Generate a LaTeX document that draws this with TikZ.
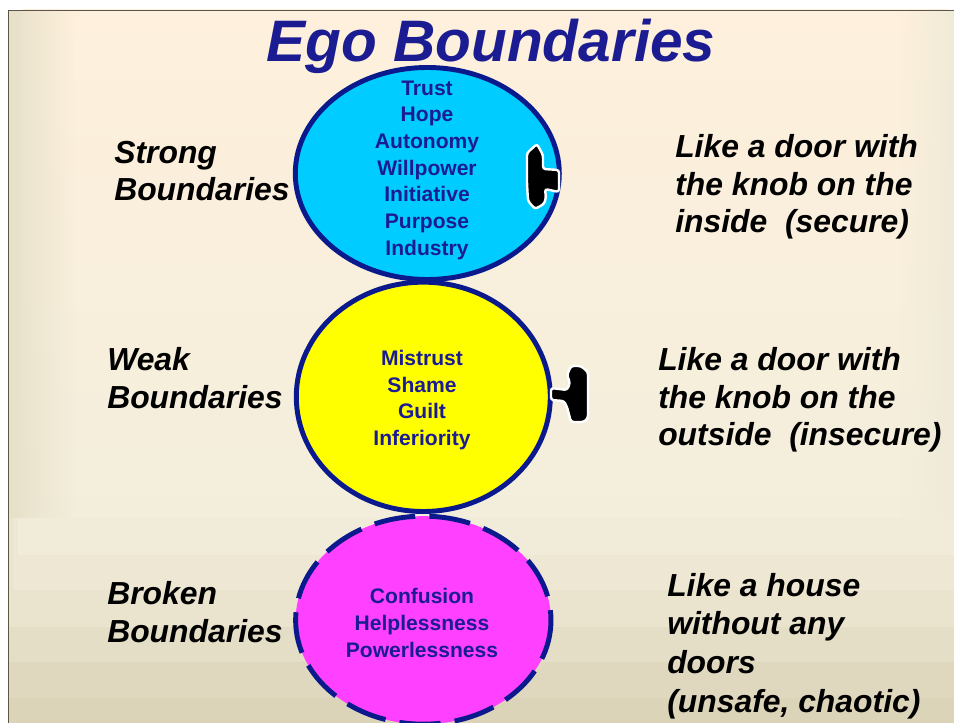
\documentclass[tikz,border=0pt]{standalone}
\usepackage{fontspec}
\setmainfont{Liberation Sans}
\usetikzlibrary{shapes.geometric,fadings}
\definecolor{inkBlue}{HTML}{1C1C92}
\definecolor{rimBlue}{HTML}{0A1A8C}
\definecolor{skyFill}{HTML}{00CCFF}
\definecolor{yellowFill}{HTML}{FFFF00}
\definecolor{pinkFill}{HTML}{FF40FF}
\definecolor{frameGrey}{HTML}{5A5546}
\definecolor{warmTop}{HTML}{FEF0DC}
\definecolor{warmLow}{HTML}{F3EEDC}
\definecolor{edgeTone}{HTML}{E7E1CA}
\definecolor{edgeRight}{HTML}{EFEBD8}
\tikzset{%
  % Specifications for style of nodes:
       circlebase/.style = {ellipse, draw=rimBlue, line width=3.7pt, inner sep=0pt},
       circletext/.style = {align=center, text=inkBlue,
                            font=\fontsize{15.8}{20}\selectfont\bfseries},
        sidelabel/.style = {anchor=west, align=left, text=black, inner sep=0pt,
                            font=\fontsize{23.9}{28.3}\selectfont\bfseries\itshape},
       knobshape/.style = {fill=black, draw=white, line width=1.8pt, rounded corners=2pt},
}
\begin{document}
\begin{tikzpicture}[x=0.75pt, y=-0.75pt, node distance=167.5pt]
  \useasboundingbox (0,0) rectangle (954,723);
  \begin{scope}
  \clip (0,0) rectangle (954,723);
  % Background, from the edge bands inwards
  \fill[white] (0,0) rectangle (954,723);
  \foreach \inset/\bottom/\tone in {
      0/723/DCD4B8, 0/698/E0D8BE, 0/662/E5DEC6, 0/627/EAE3CD, 5/590/EEE7D4,
      10/555/F1EBDA, 14/518/F2EDDC}{
    \definecolor{bandColor}{HTML}{\tone}
    \fill[bandColor] (8+\inset,10) rectangle (954,\bottom);
  }
  \shade[top color=warmTop, bottom color=warmLow] (22,10) rectangle (949,518);
  \fill[edgeTone, path fading=east] (9,10) rectangle (75,518);
  \fill[edgeRight, path fading=west] (900,10) rectangle (954,518);
  \draw[frameGrey, line width=1pt] (8.5,723) -- (8.5,10.5) -- (954,10.5);
  \end{scope}

  % Specification of nodes (position, etc.)
  \node (titleText) at (491,46) [text=inkBlue, font=\fontsize{43.9}{50}\selectfont\bfseries\itshape] {Ego Boundaries};

  \node (strongCircle) at (427.3,173.5) [circlebase, fill=skyFill, minimum width=198pt, minimum height=159pt] {};
  \node (weakCircle) [circlebase, below of=strongCircle, xshift=-3pt, fill=yellowFill, minimum width=190.5pt, minimum height=172pt] {};
  \begin{scope}
  \clip (0,0) rectangle (954,723);
  \node (brokenCircle) [circlebase, below of=weakCircle, fill=pinkFill, minimum width=191.5pt, minimum height=156pt,
      dash pattern=on 31pt off 10.6pt, dash phase=23.5pt] {};
  \end{scope}

  \node (strongText) at (427,170) [circletext] {Trust\\Hope\\Autonomy\\Willpower\\Initiative\\Purpose\\Industry};
  \node (weakText) at (422,400) [circletext] {Mistrust\\Shame\\Guilt\\Inferiority};
  \node (brokenText) at (422,623) [circletext] {Confusion\\Helplessness\\Powerlessness};

  \node (strongLabel) at (114,171) [sidelabel] {Strong\\Boundaries};
  \node (weakLabel) at (107,378) [sidelabel] {Weak\\Boundaries};
  \node (brokenLabel) at (107,612) [sidelabel] {Broken\\Boundaries};

  \node (strongNote) at (675,187) [sidelabel] {Like a door with\\the knob on the\\inside\ \ (secure)};
  \node (weakNote) at (658,400) [sidelabel] {Like a door with\\the knob on the\\outside\ \ (insecure)};
  \node (brokenNote) at (667,646) [sidelabel] {Like a house\\[0.7pt]without any\\[0.7pt]doors\\[1pt](unsafe, chaotic)};

  % The two knobs
  \draw[knobshape] (537,144) -- (527,153) -- (527,183) -- (528,201) -- (535,209) -- (544,204) -- (546,198)
    -- (545,189) -- (559,192) -- (559,170) -- (543,169) -- (543,155) -- cycle;
  \draw[knobshape] (567,375) -- (571,366) -- (581,366) -- (588,372) -- (588,393) -- (588,418) -- (584,422)
    -- (571,422) -- (567,407) -- (564,401) -- (551,400) -- (551,388) -- (567,390) -- (570,383) -- cycle;
\end{tikzpicture}
\end{document}
